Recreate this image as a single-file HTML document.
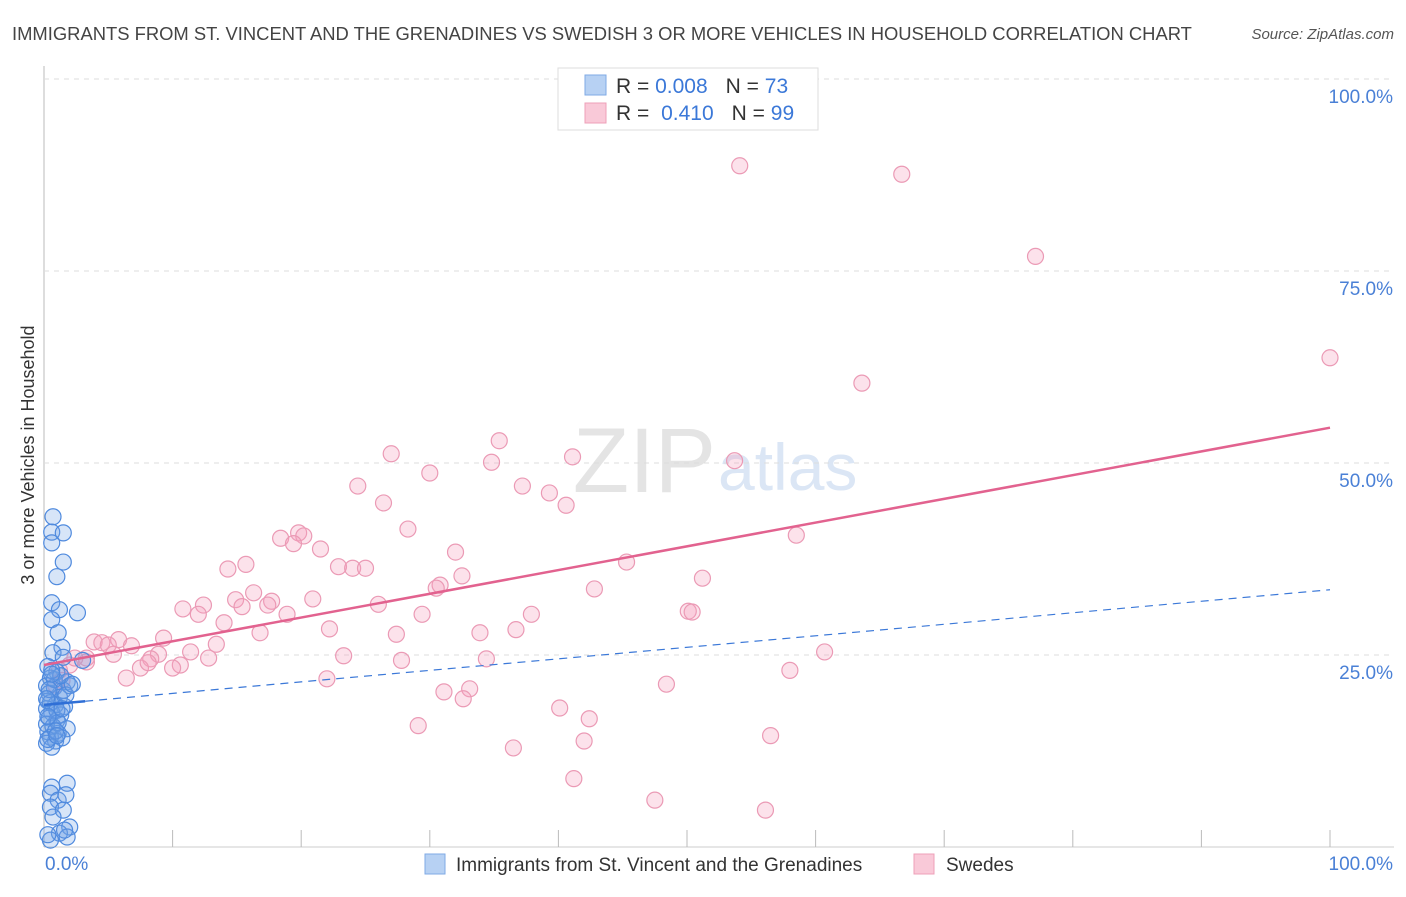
<!DOCTYPE html>
<html><head><meta charset="utf-8"><style>
body{margin:0;background:#fff;font-family:"Liberation Sans",sans-serif;}
svg text{font-family:"Liberation Sans",sans-serif;}
</style></head><body>
<svg id="chart" width="1406" height="892">
<text x="12" y="40" font-size="18.4" fill="#444">IMMIGRANTS FROM ST. VINCENT AND THE GRENADINES VS SWEDISH 3 OR MORE VEHICLES IN HOUSEHOLD CORRELATION CHART</text>
<text x="1394" y="39" font-size="15" font-style="italic" fill="#555" text-anchor="end">Source: ZipAtlas.com</text>
<text x="716" y="492" font-size="92" fill="#e4e4e4" text-anchor="end" font-family="Liberation Serif">ZIP</text>
<text x="718" y="490" font-size="66" fill="#dbe6f5">atlas</text>
<text transform="translate(34,455) rotate(-90)" font-size="18" fill="#333" text-anchor="middle">3 or more Vehicles in Household</text>
<g id="grid"></g><g id="pts"></g><g id="lines"></g>
<g>
<rect x="558" y="68" width="260" height="62" fill="#fff" stroke="#ddd"/>
<rect x="585" y="75" width="21" height="20" fill="#b7d1f3" stroke="#7faae6"/>
<rect x="585" y="103" width="21" height="20" fill="#f9c9d8" stroke="#eea0b8"/>
<text x="616" y="93" font-size="21" fill="#333">R = <tspan fill="#3b78d8">0.008</tspan><tspan dx="18">N = </tspan><tspan fill="#3b78d8">73</tspan></text>
<text x="616" y="120" font-size="21" fill="#333">R = <tspan dx="6" fill="#3b78d8">0.410</tspan><tspan dx="18">N = </tspan><tspan fill="#3b78d8">99</tspan></text>
</g>
<g>
<rect x="425" y="854" width="20" height="20" fill="#b7d1f3" stroke="#7faae6"/>
<text x="456" y="871" font-size="19" fill="#333">Immigrants from St. Vincent and the Grenadines</text>
<rect x="914" y="854" width="20" height="20" fill="#f9c9d8" stroke="#eea0b8"/>
<text x="946" y="871" font-size="19" fill="#333">Swedes</text>
</g>
</svg>
<script>
const yTicks=[25,50,75,100];
const yTickLabels=["25.0%","50.0%","75.0%","100.0%"];
const xTicks=[0,10,20,30,40,50,60,70,80,90,100];
const blueX=[0.7,0.6,1.5,0.6,1.5,1.0,0.6,1.2,2.6,0.6,1.1,1.4,0.7,1.5,3.0,0.3,1.0,0.5,1.8,0.2,0.8,1.5,2.0,0.4,1.2,0.3,0.9,1.6,0.2,0.6,1.3,0.4,1.0,0.2,0.7,1.8,0.3,1.1,0.5,0.9,0.2,1.4,0.6,0.8,1.3,0.5,1.0,0.3,1.7,0.6,1.8,0.6,0.5,1.1,0.5,1.5,0.7,2.0,1.2,1.8,0.5,1.7,0.3,1.6,0.4,1.1,0.2,2.2,0.9,0.3,1.4,0.6,1.0];
const blueY=[43.0,41.0,40.9,39.6,37.1,35.2,31.8,30.9,30.5,29.6,27.9,26.0,25.3,24.7,24.3,23.5,22.8,22.0,21.5,21.0,20.8,20.4,21.0,20.0,19.5,19.0,18.5,18.3,18.0,17.5,17.2,16.8,16.5,16.0,15.7,15.4,15.0,14.8,14.3,13.8,13.5,14.2,13.0,21.8,22.3,18.8,17.8,14.0,19.8,23.0,8.3,7.8,7.0,6.1,5.2,4.8,3.9,2.6,1.8,1.3,0.9,6.8,1.6,2.2,20.5,16.2,19.3,21.2,15.1,17.0,18.0,22.5,14.5];
const pinkX=[54.1,66.7,77.1,100,63.6,35.4,27.0,34.8,41.1,53.7,30.0,24.4,37.2,39.3,26.4,40.6,28.3,58.5,18.4,19.8,20.2,19.4,21.5,32.0,45.3,14.3,15.7,22.9,24.0,25.0,32.5,51.2,30.8,30.5,16.3,42.8,14.9,17.7,20.9,12.4,10.8,15.4,17.4,26.0,12.0,18.9,29.4,37.9,50.1,50.4,14.0,22.2,16.8,33.9,36.7,27.4,9.3,3.9,4.5,5.8,5.0,6.8,13.4,11.4,8.9,23.3,60.7,5.4,3.3,3.3,8.3,12.8,27.8,34.4,10.6,7.5,10.0,8.1,58.0,6.4,22.0,48.4,33.1,31.1,32.6,40.1,42.4,29.1,42.0,56.5,36.5,41.2,47.5,56.1,1.2,2.0,2.4,0.9,1.4];
const pinkY=[88.7,87.6,76.9,63.7,60.4,52.9,51.2,50.1,50.8,50.3,48.7,47.0,47.0,46.1,44.8,44.5,41.4,40.6,40.2,40.9,40.5,39.5,38.8,38.4,37.1,36.2,36.8,36.5,36.3,36.3,35.3,35.0,34.1,33.7,33.1,33.6,32.2,32.0,32.3,31.5,31.0,31.3,31.5,31.6,30.3,30.3,30.3,30.3,30.7,30.6,29.2,28.4,27.9,27.9,28.3,27.7,27.2,26.7,26.6,27.0,26.3,26.2,26.4,25.4,25.1,24.9,25.4,25.1,24.6,24.1,24.5,24.6,24.3,24.5,23.7,23.3,23.3,24.0,23.0,22.0,21.9,21.2,20.6,20.2,19.3,18.1,16.7,15.8,13.8,14.5,12.9,8.9,6.1,4.8,23.0,23.7,24.6,21.1,21.7];
const blueTrend=[18.5,33.5];
const pinkTrend=[23.7,54.6];
const X0=44,X1=1330,Y0=847,Y1=79;
const sx=v=>X0+(X1-X0)*v/100, sy=v=>Y0-(Y0-Y1)*v/100;
const NS="http://www.w3.org/2000/svg";
function mk(t,a,p){const e=document.createElementNS(NS,t);for(const k in a)e.setAttribute(k,a[k]);p.appendChild(e);return e;}
const g=document.getElementById('grid');
let ax=mk('line',{x1:X0,y1:66,x2:X0,y2:Y0,stroke:'#bbb'},g);


let bx=mk('line',{x1:X0,y1:Y0,x2:1394,y2:Y0,stroke:'#ccc'},g);


yTicks.forEach((t,i)=>{
 const l=mk('line',{x1:X0,y1:sy(t),x2:1394,y2:sy(t),stroke:'#ddd','stroke-dasharray':'5,5'},g);
 
 
 const tx=mk('text',{x:1393,y:sy(t)+24,'font-size':19,fill:'#4a80d6','text-anchor':'end'},g);
 tx.textContent=yTickLabels[i];
 
 
});
xTicks.forEach(t=>{
 const l=mk('line',{x1:sx(t),y1:830,x2:sx(t),y2:Y0,stroke:'#bbb'},g);
 
 
});
let t0=mk('text',{x:45,y:870,'font-size':19,fill:'#4a80d6'},g);t0.textContent='0.0%';


let t1=mk('text',{x:1393,y:870,'font-size':19,fill:'#4a80d6','text-anchor':'end'},g);t1.textContent='100.0%';


const pg=document.getElementById('pts');
pinkX.forEach((v,i)=>{
 const c=mk('circle',{cx:sx(v),cy:sy(pinkY[i]),r:8,fill:'rgba(244,160,188,0.3)',stroke:'#eb9ab5','stroke-width':1.2},pg);
 
 
});
blueX.forEach((v,i)=>{
 const c=mk('circle',{cx:sx(v),cy:sy(blueY[i]),r:8,fill:'rgba(110,160,230,0.28)',stroke:'#4f8ade','stroke-width':1.2},pg);
 
 
});
const lg=document.getElementById('lines');
const by=x=>blueTrend[0]+(blueTrend[1]-blueTrend[0])*x/100;
const py=x=>pinkTrend[0]+(pinkTrend[1]-pinkTrend[0])*x/100;
let b1=mk('line',{x1:sx(0),y1:sy(by(0)),x2:sx(3.2),y2:sy(by(3.2)),stroke:'#2f6fd6','stroke-width':2.5},lg);


let b2=mk('line',{x1:sx(3.2),y1:sy(by(3.2)),x2:sx(100),y2:sy(by(100)),stroke:'#3b78d8','stroke-width':1.2,'stroke-dasharray':'8,6'},lg);


let p1=mk('line',{x1:sx(0),y1:sy(py(0)),x2:sx(100),y2:sy(py(100)),stroke:'#e2628f','stroke-width':2.5},lg);


</script>
</body></html>
